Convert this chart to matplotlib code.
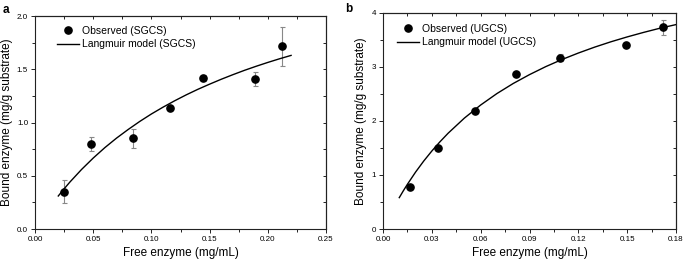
import numpy as np
import matplotlib
matplotlib.use("Agg")
import matplotlib.pyplot as plt
from matplotlib.ticker import MultipleLocator, FormatStrFormatter

plt.rcParams.update({"font.family": ["Liberation Sans", "DejaVu Sans"],
                     "axes.linewidth": 0.8, "axes.edgecolor": "#222"})

# panel a: SGCS
xa_obs = [0.025, 0.048, 0.084, 0.116, 0.144, 0.189, 0.212]
ya_obs = [0.35, 0.80, 0.85, 1.135, 1.415, 1.405, 1.715]
ea_obs = [0.11, 0.065, 0.085, 0.02, 0.03, 0.065, 0.18]
xa_fit = [0.02, 0.025, 0.03, 0.04, 0.05, 0.06, 0.07, 0.08, 0.09, 0.10, 0.11,
          0.12, 0.13, 0.14, 0.15, 0.16, 0.17, 0.18, 0.19, 0.20, 0.21, 0.22]
ya_fit = [0.31, 0.377, 0.441, 0.559, 0.666, 0.764, 0.853, 0.934, 1.01, 1.08,
          1.144, 1.204, 1.26, 1.312, 1.36, 1.406, 1.449, 1.49, 1.528, 1.564,
          1.598, 1.63]

# panel b: UGCS
xb_obs = [0.0165, 0.0335, 0.0565, 0.0815, 0.109, 0.149, 0.172]
yb_obs = [0.77, 1.49, 2.19, 2.875, 3.17, 3.40, 3.73]
eb_obs = [0.03, 0.03, 0.03, 0.03, 0.06, 0.03, 0.14]
xb_fit = [0.01, 0.0125, 0.015, 0.02, 0.025, 0.03, 0.035, 0.04, 0.05, 0.06,
          0.07, 0.08, 0.09, 0.10, 0.11, 0.12, 0.13, 0.14, 0.15, 0.16, 0.17,
          0.18]
yb_fit = [0.58, 0.707, 0.827, 1.052, 1.256, 1.442, 1.613, 1.771, 2.051, 2.293,
          2.505, 2.691, 2.855, 3.003, 3.135, 3.254, 3.363, 3.462, 3.552, 3.635,
          3.712, 3.78]

fig = plt.figure(figsize=(6.85, 2.62), dpi=100)
ax_a = fig.add_axes([35 / 685, 33 / 262, 291 / 685, 213 / 262])
ax_b = fig.add_axes([383 / 685, 33 / 262, 293 / 685, 216.3 / 262])

panels = [
    (ax_a, xa_obs, ya_obs, ea_obs, xa_fit, ya_fit, "SGCS",
     (0, 0.25), (0, 2.0), 0.05, 0.025, 0.5, 0.25, "%.2f", "%.1f", (0.075, 0.955)),
    (ax_b, xb_obs, yb_obs, eb_obs, xb_fit, yb_fit, "UGCS",
     (0, 0.18), (0, 4), 0.03, 0.015, 1, 0.5, "%.2f", "%d", (0.048, 0.95)),
]

for (ax, xo, yo, eo, xf, yf, name, xl, yl, xmaj, xmin, ymaj, ymin,
     xfmt, yfmt, legpos) in panels:
    ax.errorbar(xo, yo, yerr=eo, fmt="none", ecolor="#888", elinewidth=0.8,
                capsize=1.8, capthick=0.8, zorder=2)
    ax.plot(xo, yo, "o", color="black", ms=5.2, zorder=3,
            label="Observed (%s)" % name)
    ax.plot(xf, yf, "-", color="black", lw=1.0, zorder=2,
            label="Langmuir model (%s)" % name)
    ax.set_xlim(*xl)
    ax.set_ylim(*yl)
    ax.xaxis.set_major_locator(MultipleLocator(xmaj))
    ax.xaxis.set_minor_locator(MultipleLocator(xmin))
    ax.yaxis.set_major_locator(MultipleLocator(ymaj))
    ax.yaxis.set_minor_locator(MultipleLocator(ymin))
    ax.xaxis.set_major_formatter(FormatStrFormatter(xfmt))
    ax.yaxis.set_major_formatter(FormatStrFormatter(yfmt))
    ax.tick_params(which="both", labelsize=5.8, width=0.7, pad=2,
                   color="#222")
    ax.tick_params(which="major", length=3)
    ax.tick_params(which="minor", length=2.2)
    # inward ticks on the top and right spines
    top = ax.secondary_xaxis("top")
    top.set_xticks(np.arange(xl[0], xl[1] + 1e-9, xmin))
    top.tick_params(direction="in", length=2.5, width=0.7, labeltop=False,
                    color="#222")
    right = ax.secondary_yaxis("right")
    right.set_yticks(np.arange(yl[0], yl[1] + 1e-9, ymin))
    right.tick_params(direction="in", length=2.5, width=0.7, labelright=False,
                      color="#222")
    ax.set_xlabel("Free enzyme (mg/mL)", fontsize=8.5, labelpad=3)
    ax.set_ylabel("Bound enzyme (mg/g substrate)", fontsize=8.5, labelpad=3)
    ax.legend(loc="upper left", bbox_to_anchor=legpos, frameon=False,
              fontsize=7.5, borderpad=0, borderaxespad=0, handlelength=2.1,
              handletextpad=0.3, labelspacing=0.35)

fig.text(0.004, 0.985, "a", fontsize=8.5, fontweight="bold", va="top")
fig.text(345 / 685, 0.99, "b", fontsize=8.5, fontweight="bold", va="top")

fig.savefig("out.png", dpi=100, facecolor="white")
